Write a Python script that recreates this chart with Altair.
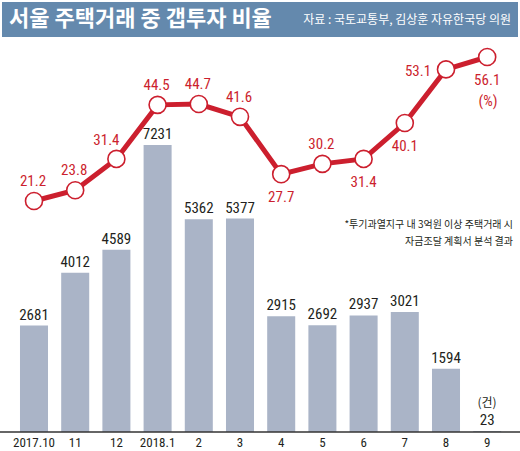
import altair as alt
import pandas as pd

# Monthly Seoul housing deals (count) and gap-investment share (%)
months = ["2017.10", "11", "12", "2018.1", "2", "3", "4", "5", "6", "7", "8", "9"]
deals = [2681, 4012, 4589, 7231, 5362, 5377, 2915, 2692, 2937, 3021, 1594, 23]
gap_share = [21.2, 23.8, 31.4, 44.5, 44.7, 41.6, 27.7, 30.2, 31.4, 40.1, 53.1, 56.1]

title_text = "서울 주택거래 중 갭투자 비율"
source_text = "자료 : 국토교통부, 김상훈 자유한국당 의원"
note_lines = ["*투기과열지구 내 3억원 이상 주택거래 시", "자금조달 계획서 분석 결과"]

df = pd.DataFrame({"month": months, "deals": deals, "share": gap_share})
one = pd.DataFrame({"k": [0]})

KR = "Noto Sans CJK KR"
NUM = "Liberation Sans Narrow, Roboto Condensed, Liberation Sans, sans-serif"
RED = "#cc1f2e"
BAR = "#aab4c7"
HEAD = "#6489ad"
INK = "#231f20"

x_enc = alt.X("month:N", sort=None, axis=None,
              scale=alt.Scale(range=[13.4, 507.8], paddingInner=0.32, paddingOuter=0.16))
y_bar = alt.Y("deals:Q", axis=None, scale=alt.Scale(domain=[0, 7231], range=[432, 145]))
y_line = alt.Y("share:Q", axis=None, scale=alt.Scale(domain=[21.2, 56.1], range=[201, 57]))

base = alt.Chart(df)

header = alt.Chart(one).mark_rect(color=HEAD).encode(
    x=alt.value(2), x2=alt.value(518), y=alt.value(2), y2=alt.value(37))
title = alt.Chart(one).mark_text(
    text=title_text, font=KR, fontSize=22, fontWeight="bold", color="white",
    align="left", baseline="middle").encode(x=alt.value(9), y=alt.value(19))
source = alt.Chart(one).mark_text(
    text=source_text, font=KR, fontSize=12, color="white",
    align="right", baseline="middle").encode(x=alt.value(511), y=alt.value(20))

bars = base.mark_bar(color=BAR).encode(x=x_enc, y=y_bar)
bar_labels = base.mark_text(font=NUM, fontSize=15, color=INK, baseline="middle", dy=-11).encode(
    x=x_enc, y=y_bar, text=alt.Text("deals:Q", format="d"))

baseline = alt.Chart(one).mark_rule(color="#333333", strokeWidth=1.5).encode(
    x=alt.value(0), x2=alt.value(520), y=alt.value(432))
month_labels = base.mark_text(font=NUM, fontSize=13, color=INK, baseline="middle").encode(
    x=x_enc, y=alt.value(443), text="month:N")

line = base.mark_line(color=RED, strokeWidth=5).encode(x=x_enc, y=y_line)
dots = base.mark_point(shape="circle", filled=True, fill="white", stroke=RED,
                       strokeWidth=1.6, size=290, opacity=1).encode(x=x_enc, y=y_line)


def share_labels(which, dx=0, dy=0):
    return base.transform_filter(
        alt.FieldOneOfPredicate(field="month", oneOf=which)
    ).mark_text(font=NUM, fontSize=15, color=RED, baseline="middle", dx=dx, dy=dy).encode(
        x=x_enc, y=y_line, text=alt.Text("share:Q", format=".1f"))


above = share_labels(["2017.10", "11", "2018.1", "2", "3", "5"], dx=-1, dy=-20)
above_left = share_labels(["12"], dx=-10, dy=-19)
below = share_labels(["4", "6", "7", "9"], dy=23)
left = share_labels(["8"], dx=-28, dy=2)

pct = alt.Chart(one).mark_text(text="(%)", font=NUM, fontSize=15, color=RED,
                               baseline="middle").encode(x=alt.value(488), y=alt.value(101))
unit = alt.Chart(one).mark_text(text="(건)", font=KR, fontSize=12, color=INK,
                                baseline="middle").encode(x=alt.value(487), y=alt.value(403))
note1 = alt.Chart(one).mark_text(text=note_lines[0], font=KR, fontSize=10, color=INK,
                                 align="right", baseline="middle").encode(
    x=alt.value(513), y=alt.value(225))
note2 = alt.Chart(one).mark_text(text=note_lines[1], font=KR, fontSize=10, color=INK,
                                 align="right", baseline="middle").encode(
    x=alt.value(513), y=alt.value(242))

chart = alt.layer(
    header, title, source,
    bars, bar_labels, baseline, month_labels,
    line, dots, above, above_left, below, left,
    pct, unit, note1, note2,
).resolve_scale(y="independent").properties(
    width=520, height=451, padding=0, autosize=alt.AutoSizeParams(type="none"),
    background="white",
).configure_view(stroke=None)

chart.save("out.html", embed_options={"renderer": "svg", "actions": False})
